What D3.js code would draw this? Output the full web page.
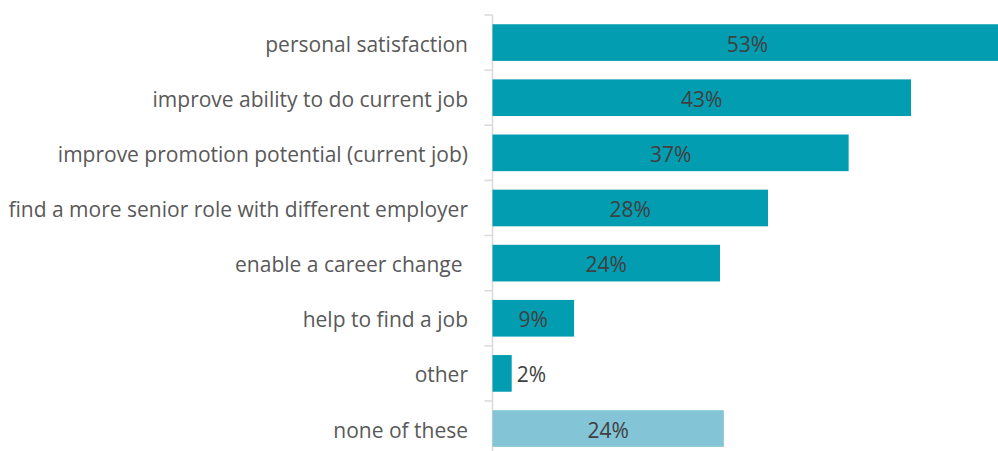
<!DOCTYPE html>
<html><head><meta charset="utf-8">
<script src="https://cdn.jsdelivr.net/npm/d3@7"></script>
<style>
html,body{margin:0;padding:0;background:#fff;overflow:hidden;}
svg{display:block;}
text{white-space:pre;}
</style></head>
<body>
<svg id="chart" width="998" height="451"></svg>
<script>
const categories = ["personal satisfaction","improve ability to do current job","improve promotion potential (current job)","find a more senior role with different employer","enable a career change ","help to find a job","other","none of these"];
const values = [53.1,43.6,37.1,28.7,23.7,8.5,2.0,24.1];
const labels = ["53%","43%","37%","28%","24%","9%","2%","24%"];
const barColors = ["#039db1","#039db1","#039db1","#039db1","#039db1","#039db1","#039db1","#83c5d6"];

const svg = d3.select("#chart");
const left = 492.5;
const y = d3.scaleBand().domain(categories).range([15, 456.1]).paddingInner(0.335).paddingOuter(0.1675);
const x = d3.scaleLinear().domain([0, 100]).range([left, left + 960]);

// axis
const axisG = svg.append("g").attr("transform", `translate(${left},0)`);
const bandEdges = d3.range(categories.length + 1).map(i => 15 + i * y.step());
axisG.append("line").attr("x1",0).attr("x2",0).attr("y1",15).attr("y2",456).attr("stroke","#d9d9d9").attr("stroke-width",1.5);
axisG.selectAll("line.tick").data(bandEdges).join("line").attr("class","tick")
  .attr("x1",-8).attr("x2",0).attr("y1",d=>d).attr("y2",d=>d).attr("stroke","#d9d9d9").attr("stroke-width",1.5);

// category labels
svg.append("g").selectAll("text").data(categories).join("text")
  .attr("x", 468).attr("y", d => y(d) + y.bandwidth()/2 + 1)
  .attr("text-anchor","end").attr("dominant-baseline","central")
  .attr("font-family","'Open Sans', sans-serif").attr("font-size",21).attr("fill","#595959")
  .text(d => d);

// bars
svg.append("g").selectAll("rect").data(categories).join("rect")
  .attr("x", x(0)).attr("y", d => y(d))
  .attr("width", (d,i) => x(values[i]) - x(0)).attr("height", y.bandwidth())
  .attr("fill", (d,i) => barColors[i]);

// value labels
svg.append("g").selectAll("text").data(categories).join("text")
  .attr("x", (d,i) => {
    const w = x(values[i]) - x(0);
    return w < 40 ? x(values[i]) + 5 : (x(0) + x(values[i])) / 2;
  })
  .attr("y", d => y(d) + y.bandwidth()/2 + 1)
  .attr("text-anchor", (d,i) => (x(values[i]) - x(0)) < 40 ? "start" : "middle")
  .attr("dominant-baseline","central")
  .attr("font-family","'Open Sans', sans-serif").attr("font-size",21).attr("fill","#404040")
  .text((d,i) => labels[i]);
</script>
</body></html>
